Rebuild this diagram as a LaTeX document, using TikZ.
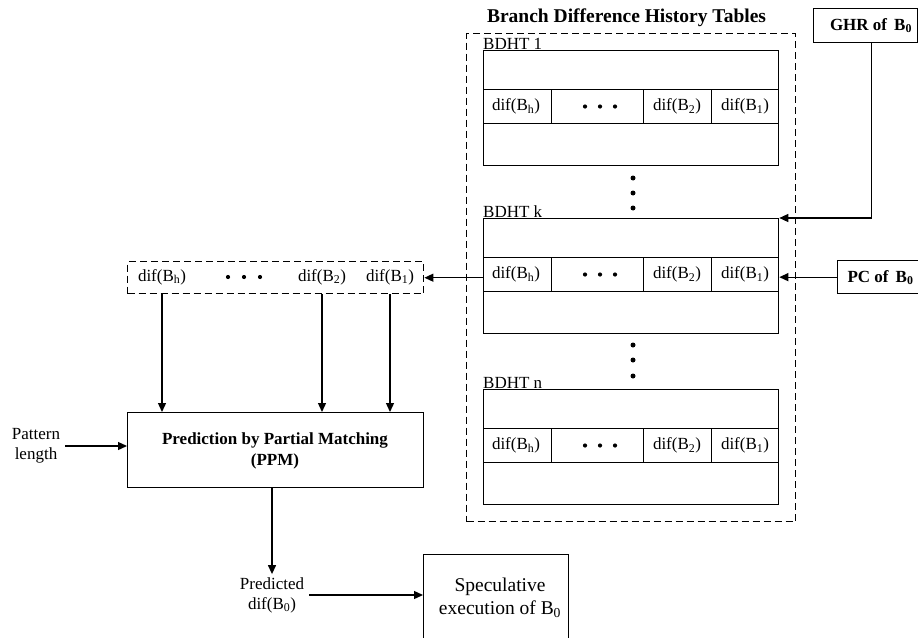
\documentclass[tikz,border=0pt]{standalone}
\usepackage{fontspec}
\setmainfont{Liberation Serif}
\usetikzlibrary{arrows.meta}

\newcommand{\fnorm}{\fontsize{17}{20.5}\selectfont}
\newcommand{\fbig}{\fontsize{19.5}{23}\selectfont}
\newcommand{\difB}[1]{dif(B\textsubscript{#1})}

% One branch difference history table: name, top edge, label
\newcommand{\bdhtable}[3]{%
  \begin{scope}[shift={(483,#2)}]
    \node[frame, anchor=north west, minimum width=295pt, minimum height=115pt] (#1) at (0,0) {};
    \node[txt, anchor=base west] (#1-lbl) at (0,-0.5) {#3};
    \draw[thin] (0,39.5) -- (295,39.5) (0,73.5) -- (295,73.5);
    \draw[thin] (68,39.5) -- (68,73.5) (160,39.5) -- (160,73.5) (228,39.5) -- (228,73.5);
    \node[inner sep=0pt, minimum width=295pt, minimum height=34pt, anchor=west] (#1-mid) at (0,56.5) {};
    \node[txt] (#1-h) at (33,56.5) {\difB{h}};
    \node[txt] (#1-2) at (194,56.5) {\difB{2}};
    \node[txt] (#1-1) at (262,56.5) {\difB{1}};
    \fill (102,56.5) circle (2.1pt) (117,56.5) circle (2.1pt) (132,56.5) circle (2.1pt);
  \end{scope}}

\begin{document}
\begin{tikzpicture}[x=1pt,y=-1pt,
  frame/.style={draw, line width=1.3pt, inner sep=0pt},
  thin/.style={line width=0.9pt},
  dashbox/.style={draw, dash pattern=on 7pt off 4pt, line width=1.4pt, inner sep=0pt},
  arr/.style={line width=1.3pt, -{Triangle[length=9pt,width=8pt]}},
  txt/.style={font=\fnorm, inner sep=0pt},
  btxt/.style={font=\fnorm\bfseries, inner sep=0pt, align=center},
]
\useasboundingbox (0,0) rectangle (918,637);

% container of the history tables
\node[font=\fbig\bfseries, inner sep=0pt] (title) at (626.5,18) {Branch Difference History Tables};
\node[dashbox, anchor=north west, minimum width=329pt, minimum height=488pt] (bdhts) at (466,33) {};

\bdhtable{t1}{50}{BDHT 1}
\bdhtable{tk}{218}{BDHT k}
\bdhtable{tn}{389}{BDHT n}

% vertical ellipses between tables
\fill (633,178) circle (2.5pt) (633,193) circle (2.5pt) (633,208) circle (2.5pt);
\fill (633,345) circle (2.5pt) (633,360) circle (2.5pt) (633,376) circle (2.5pt);

% inputs
\node[frame, anchor=north west, minimum width=104.3pt, minimum height=34pt] (ghr) at (813,8) {};
\node[btxt] (ghr-txt) at (871,25.5) {GHR of\, B\textsubscript{0}};
\node[frame, anchor=north west, minimum width=90pt, minimum height=33pt] (pc) at (837,260) {};
\node[btxt] (pc-txt) at (880.5,277.5) {PC of\, B\textsubscript{0}};

\draw[arr] ([xshift=5.5pt]ghr.south) |- (tk.north east);
\draw[arr] (pc.west) -- (pc.west -| tk.east);

% selected history row
\node[dashbox, anchor=north west, minimum width=296pt, minimum height=32pt] (rowbox) at (127,261) {};
\node[txt] (rbh) at (162,277) {\difB{h}};
\node[txt] (rb2) at (322,277) {\difB{2}};
\node[txt] (rb1) at (390,277) {\difB{1}};
\fill (228,277) circle (2.1pt) (244,277) circle (2.1pt) (260,277) circle (2.1pt);

\draw[arr] (tk-mid.west |- rowbox.east) -- (rowbox.east);

% PPM predictor
\node[frame, anchor=north west, minimum width=296pt, minimum height=75pt] (ppm) at (127,412) {};
\node[btxt, font=\fontsize{17}{21}\selectfont\bfseries] (ppm-txt) at (275,451) {Prediction by Partial Matching\\(PPM)};

\draw[arr] (rbh.south |- rowbox.south) -- (rbh.south |- ppm.north);
\draw[arr] (rb2.south |- rowbox.south) -- (rb2.south |- ppm.north);
\draw[arr] (rb1.south |- rowbox.south) -- (rb1.south |- ppm.north);

\node[txt, align=center, font=\fontsize{17}{20}\selectfont] (pat) at (36,446) {Pattern\\length};
\draw[arr] ([xshift=5pt]pat.east) -- (pat.east -| ppm.west);

% prediction output
\node[txt, align=center, font=\fontsize{17}{20}\selectfont] (pred) at (272,595) {Predicted\\\difB{0}};
\draw[arr] (ppm.south -| pred.north) -- ([yshift=3pt]pred.north);

\node[frame, anchor=north west, minimum width=145pt, minimum height=95pt] (spec) at (423,554) {};
\node[txt, align=center, font=\fontsize{19.5}{23}\selectfont] (spec-txt) at (500,598) {Speculative\\execution of B\textsubscript{0}};
\draw[arr] ([xshift=5pt]pred.east) -- (pred.east -| spec.west);
\end{tikzpicture}
\end{document}
